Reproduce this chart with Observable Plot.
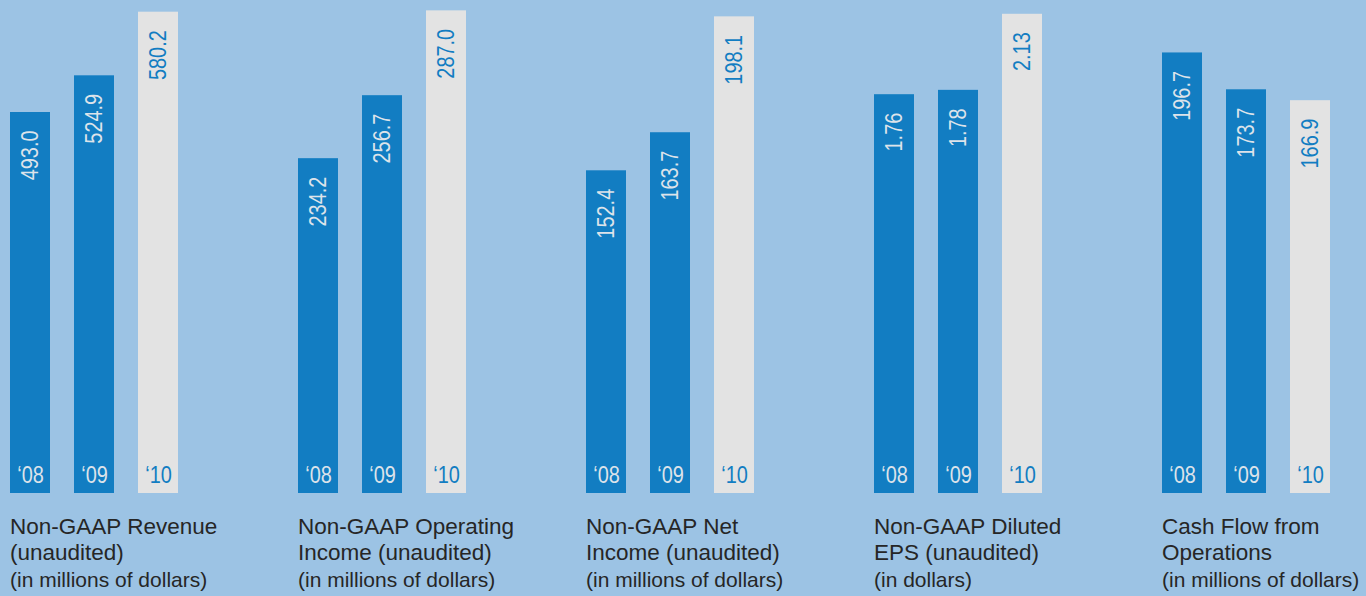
<!DOCTYPE html>
<html><head><meta charset="utf-8">
<script src="https://cdn.jsdelivr.net/npm/d3@7"></script>
<script src="https://cdn.jsdelivr.net/npm/@observablehq/plot@0.6"></script>
<style>
html,body{margin:0;padding:0;background:#9cc3e4;}
#wrap{position:relative;width:1366px;height:596px;overflow:hidden;background:#9cc3e4;}
.panel{position:absolute;top:0;}
.title{position:absolute;top:514px;font-family:"Liberation Sans",Arial,sans-serif;color:#262626;white-space:nowrap;}
.t1{font-size:22.5px;line-height:26px;}
.t2{font-size:21px;line-height:27px;}
</style></head><body><div id="wrap"></div>
<script>
// ---- data ----
const years = ["\u201808", "\u201809", "\u201810"];
const revenue = [493.0, 524.9, 580.2];
const operatingIncome = [234.2, 256.7, 287.0];
const netIncome = [152.4, 163.7, 198.1];
const dilutedEPS = [1.76, 1.78, 2.13];
const cashFlow = [196.7, 173.7, 166.9];
const titleLine1 = ["Non-GAAP Revenue", "Non-GAAP Operating", "Non-GAAP Net", "Non-GAAP Diluted", "Cash Flow from"];
const titleLine2 = ["(unaudited)", "Income (unaudited)", "Income (unaudited)", "EPS (unaudited)", "Operations"];
const unitLine = ["(in millions of dollars)", "(in millions of dollars)", "(in millions of dollars)", "(in dollars)", "(in millions of dollars)"];
const decimals = [1, 1, 1, 2, 1];

// ---- chart ----
const series = [revenue, operatingIncome, netIncome, dilutedEPS, cashFlow];
// per-panel y scale domains (each panel in the original uses its own truncated scale)
const yDomains = [[161.8, 578.2], [114.6, 285.7], [56.6, 198.8], [-0.075, 2.129], [-78.3, 220.7]];
const BLUE = "#127dc2", GRAY = "#e3e3e3", LABEL = "#dde3ea";
const numFont = "'Liberation Sans',Arial,sans-serif";

const wrap = document.getElementById("wrap");
series.forEach((vals, i) => {
  const data = years.map((y, j) => ({year: y, value: vals[j]}));
  const base = yDomains[i][0];
  const fmt = d3.format("." + decimals[i] + "f");
  const isLast = d => d.year === years[2];
  const chart = Plot.plot({
    width: 170, height: 493,
    marginLeft: 0, marginRight: 1, marginTop: 14, marginBottom: 0,
    style: {background: "transparent", overflow: "visible", fontFamily: numFont},
    x: {domain: years, paddingInner: 0.38, paddingOuter: 0, align: 0, axis: null},
    y: {domain: yDomains[i], axis: null},
    color: {domain: years, range: [BLUE, BLUE, GRAY]},
    marks: [
      Plot.barY(data, {x: "year", y1: base, y2: "value", fill: "year", inset: 0}),
      Plot.text(data, {filter: d => !isLast(d), x: "year", y: "value", text: d => fmt(d.value),
        rotate: -90, textAnchor: "end", lineAnchor: "middle", dy: 18, fontSize: 24, fill: LABEL}),
      Plot.text(data, {filter: isLast, x: "year", y: "value", text: d => fmt(d.value),
        rotate: -90, textAnchor: "end", lineAnchor: "middle", dy: 18, fontSize: 24, fill: BLUE}),
      Plot.text(data, {filter: d => !isLast(d), x: "year", y: () => base, text: "year",
        lineAnchor: "bottom", dy: -11, fontSize: 24, fill: LABEL}),
      Plot.text(data, {filter: isLast, x: "year", y: () => base, text: "year",
        lineAnchor: "bottom", dy: -11, fontSize: 24, fill: BLUE})
    ]
  });
  // condense the number glyphs (the original uses a condensed face)
  d3.select(chart).selectAll("text").each(function() {
    const t = this.getAttribute("transform");
    if (t) this.setAttribute("transform", t + " scale(0.83,1)");
  });
  const div = document.createElement("div");
  div.className = "panel";
  div.style.left = (10 + i * 288) + "px";
  div.appendChild(chart);
  wrap.appendChild(div);

  const t = document.createElement("div");
  t.className = "title";
  t.style.left = (10 + i * 288) + "px";
  t.innerHTML = `<div class="t1">${titleLine1[i]}</div><div class="t1">${titleLine2[i]}</div><div class="t2">${unitLine[i]}</div>`;
  wrap.appendChild(t);
});
</script></body></html>
